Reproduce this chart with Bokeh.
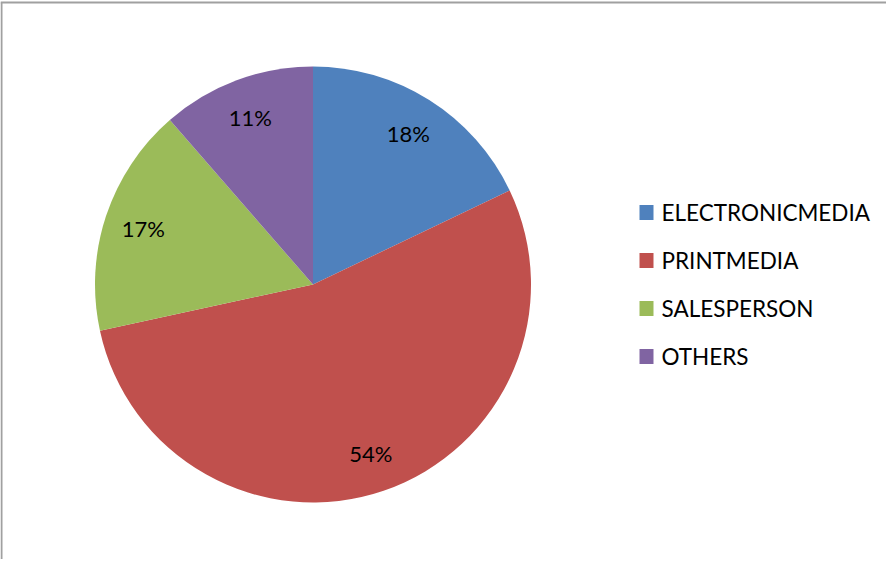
import math
from bokeh.plotting import figure
from bokeh.models import ColumnDataSource, Range1d
from bokeh.core.properties import value
from bokeh.embed import file_html
from bokeh.resources import INLINE

categories = ["ELECTRONICMEDIA", "PRINTMEDIA", "SALESPERSON", "OTHERS"]
shares = [17.9, 53.7, 17.0, 11.4]
colors = ["#4F81BD", "#C0504D", "#9BBB59", "#8064A2"]

W, H = 886, 559
p = figure(width=W, height=H, output_backend="svg", toolbar_location=None,
           x_range=Range1d(0, W), y_range=Range1d(0, H), min_border=0,
           outline_line_color=None)
p.axis.visible = False
p.grid.visible = False

# chart-area border (top and left visible, as in the reference)
p.segment(x0=[0, 1], y0=[H - 2, H - 2], x1=[W, 1], y1=[H - 2, 0],
          line_color="#a0a0a0", line_width=2)

cx, cy, R = 312.5, 275.0, 218.0
total = sum(shares)
starts, ends, lx, ly, labels = [], [], [], [], []
cum = 0.0
for s in shares:
    a0 = math.pi / 2 - 2 * math.pi * cum / total
    cum += s
    a1 = math.pi / 2 - 2 * math.pi * cum / total
    starts.append(a0)
    ends.append(a1)
    mid = (a0 + a1) / 2
    lx.append(cx + 0.82 * R * math.cos(mid))
    ly.append(cy + 0.82 * R * math.sin(mid))
    labels.append(f"{round(s)}%")

src = ColumnDataSource(dict(start=starts, end=ends, color=colors, lx=lx, ly=ly,
                            label=labels, cat=categories))
p.wedge(x=cx, y=cy, radius=R, start_angle="start", end_angle="end",
        direction="clock", fill_color="color", line_color=None, source=src)
p.text(x="lx", y="ly", text="label", source=src, text_align="center",
       text_baseline="middle", text_font=value("Lato"), text_font_size="22px",
       text_color="#000000")

# legend
n = len(categories)
leg_y = [H - (220 - 8) - i * 48 for i in range(n)]
lsrc = ColumnDataSource(dict(x=[654 - 8] * n, y=leg_y, tx=[669 - 8] * n,
                             color=colors, cat=categories))
p.rect(x="x", y="y", width=14, height=15, fill_color="color", line_color=None, source=lsrc)
p.text(x="tx", y="y", text="cat", source=lsrc, text_align="left", text_baseline="middle",
       text_font=value("Lato"), text_font_size="22.5px", text_color="#000000")

open("out.html", "w").write(file_html(p, INLINE))
